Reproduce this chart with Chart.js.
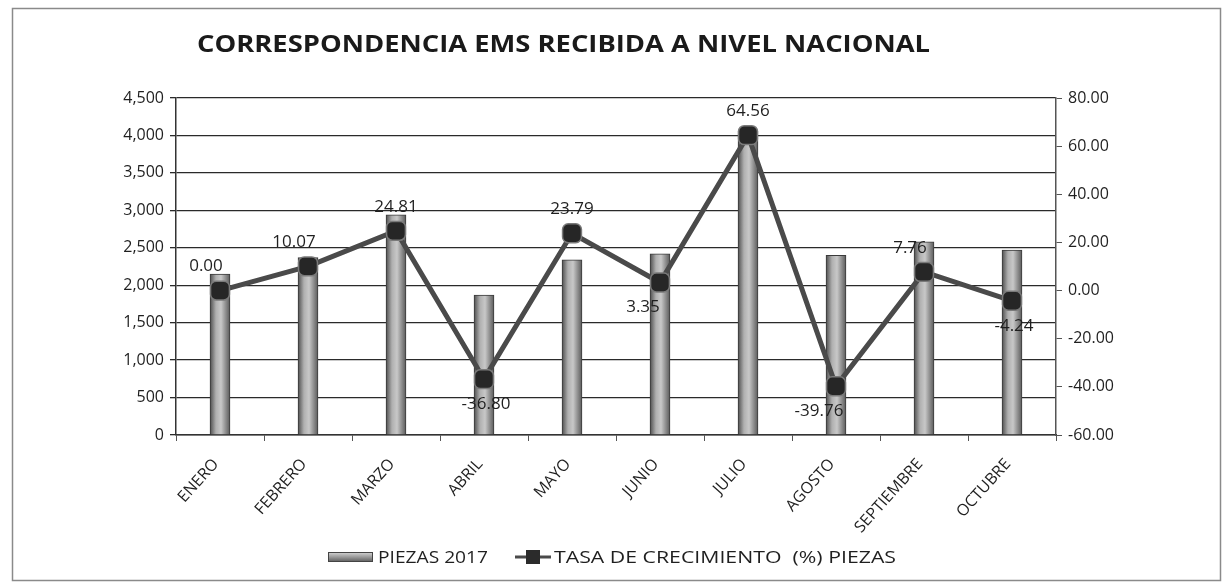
<!DOCTYPE html>
<html>
<head>
<meta charset="utf-8">
<script src="https://cdn.jsdelivr.net/npm/chart.js@4/dist/chart.umd.min.js"></script>
<style>
  html, body { margin: 0; padding: 0; background: #fff; }
  #wrap { width: 1227px; height: 584px; }
</style>
</head>
<body>
<div id="wrap"><canvas id="chart" width="1227" height="584"></canvas></div>
<script>
// ===== Data =====
const months = ["ENERO", "FEBRERO", "MARZO", "ABRIL", "MAYO", "JUNIO", "JULIO", "AGOSTO", "SEPTIEMBRE", "OCTUBRE"];
const piezas2017 = [2150, 2370, 2940, 1870, 2340, 2420, 4060, 2400, 2580, 2470];
const tasaCrecimiento = [0.00, 10.07, 24.81, -36.80, 23.79, 3.35, 64.56, -39.76, 7.76, -4.24];
const leftTicks = { min: 0, max: 4500, step: 500 };
const rightTicks = { min: -60, max: 80, step: 20 };

const titleText = "CORRESPONDENCIA EMS RECIBIDA A NIVEL NACIONAL";
const barLegend = "PIEZAS 2017";
const lineLegend = "TASA DE CRECIMIENTO  (%) PIEZAS";

// where each value label sits around its marker
const labelPlace = ["above-left", "above-left", "above", "below", "above", "below-left", "above", "below-left", "above-left", "below"];

const FONT = "'Open Sans', 'Liberation Sans', sans-serif";

// draws text squeezed/stretched to a given width (the source uses a narrow font)
function fitText(c, text, x, y, width) {
  const w = c.measureText(text).width;
  c.save();
  c.translate(x, y);
  c.scale(width / w, 1);
  c.fillText(text, 0, 0);
  c.restore();
}

// ===== Plugins =====
const frame = {
  id: "frame",
  beforeDraw(chart) {
    const c = chart.ctx;
    c.save();
    c.fillStyle = "#fff";
    c.fillRect(0, 0, chart.width, chart.height);
    c.strokeStyle = "#8a8a8a";
    c.lineWidth = 1.5;
    c.strokeRect(12.5, 8.5, 1208, 572);
    // title
    c.fillStyle = "#1a1a1a";
    c.font = "bold 23px " + FONT;
    c.textBaseline = "middle";
    fitText(c, titleText, 197, 45, 733);
    c.restore();
  }
};

const valueLabels = {
  id: "valueLabels",
  afterDatasetsDraw(chart) {
    const c = chart.ctx;
    const meta = chart.getDatasetMeta(1);
    c.save();
    c.font = "17px " + FONT;
    c.fillStyle = "#1f1f1f";
    c.textAlign = "center";
    c.textBaseline = "middle";
    meta.data.forEach((pt, i) => {
      let dx = 0, dy = -24;
      const p = labelPlace[i];
      if (p === "above-left") { dx = -14; dy = -24; }
      if (p === "below") { dx = 2; dy = 25; }
      if (p === "below-left") { dx = -17; dy = 25; }
      c.fillText(tasaCrecimiento[i].toFixed(2), pt.x + dx, pt.y + dy);
    });
    c.restore();
  }
};

const customLegend = {
  id: "customLegend",
  afterDraw(chart) {
    const c = chart.ctx;
    const y = 557;
    c.save();
    // bar swatch
    const g = c.createLinearGradient(0, y - 5, 0, y + 5);
    g.addColorStop(0, "#d8d8d8");
    g.addColorStop(0.5, "#9a9a9a");
    g.addColorStop(1, "#5a5a5a");
    c.fillStyle = g;
    c.fillRect(328, y - 5, 45, 10);
    c.strokeStyle = "#444";
    c.lineWidth = 1;
    c.strokeRect(328.5, y - 4.5, 44, 9);
    c.font = "16px " + FONT;
    c.fillStyle = "#1f1f1f";
    c.textBaseline = "middle";
    fitText(c, barLegend, 378, y + 1, 110);
    // line swatch
    c.strokeStyle = "#4a4a4a";
    c.lineWidth = 3;
    c.beginPath();
    c.moveTo(515, y);
    c.lineTo(551, y);
    c.stroke();
    c.fillStyle = "#2b2b2b";
    c.fillRect(526, y - 7, 14, 14);
    c.fillStyle = "#1f1f1f";
    fitText(c, lineLegend, 554, y + 1, 342);
    c.restore();
  }
};

// cylinder-like shading across each bar
function barFill(ctx) {
  const chart = ctx.chart;
  if (!chart.chartArea || ctx.dataIndex === undefined) return "#9c9c9c";
  const x = chart.scales.x.getPixelForValue(ctx.dataIndex);
  const g = chart.ctx.createLinearGradient(x - 10, 0, x + 10, 0);
  g.addColorStop(0, "#4e4e4e");
  g.addColorStop(0.3, "#b0b0b0");
  g.addColorStop(0.55, "#c8c8c8");
  g.addColorStop(1, "#5a5a5a");
  return g;
}

// ===== Chart =====
const chart = new Chart(document.getElementById("chart"), {
  type: "bar",
  data: {
    labels: months,
    datasets: [
      {
        type: "bar",
        label: barLegend,
        data: piezas2017,
        yAxisID: "y",
        backgroundColor: barFill,
        borderColor: "#3a3a3a",
        borderWidth: 1,
        barThickness: 20,
        order: 2
      },
      {
        type: "line",
        label: lineLegend,
        data: tasaCrecimiento,
        yAxisID: "y2",
        borderColor: "#4a4a4a",
        borderWidth: 5,
        pointStyle: "rectRounded",
        pointRadius: 11,
        pointBackgroundColor: "#262626",
        pointBorderColor: "#7a7a7a",
        pointBorderWidth: 1.5,
        tension: 0,
        order: 1
      }
    ]
  },
  options: {
    responsive: false,
    animation: false,
    layout: { padding: { top: 98, left: 0, right: 0, bottom: 0 } },
    plugins: {
      legend: { display: false },
      title: { display: false },
      tooltip: { enabled: false }
    },
    scales: {
      x: {
        grid: { display: true, drawOnChartArea: false, color: "#555", tickLength: 6, offset: true },
        border: { color: "#333", width: 1.5 },
        ticks: {
          color: "#1f1f1f",
          font: { family: FONT, size: 16 },
          maxRotation: 48,
          minRotation: 48,
          labelOffset: -4,
          padding: 14
        },
        afterFit(scale) { scale.height = 149; }
      },
      y: {
        position: "left",
        min: leftTicks.min,
        max: leftTicks.max,
        ticks: {
          stepSize: leftTicks.step,
          color: "#1f1f1f",
          font: { family: FONT, size: 16 },
          padding: 6,
          callback: v => v.toLocaleString("en-US")
        },
        grid: { color: "#2a2a2a", lineWidth: 1.3, tickLength: 6 },
        border: { color: "#333", width: 1.5 },
        afterFit(scale) { scale.width = 176; }
      },
      y2: {
        position: "right",
        min: rightTicks.min,
        max: rightTicks.max,
        ticks: {
          stepSize: rightTicks.step,
          color: "#1f1f1f",
          font: { family: FONT, size: 16 },
          padding: 6,
          callback: v => v.toFixed(2)
        },
        grid: { drawOnChartArea: false, color: "#555", tickLength: 6 },
        border: { color: "#555", width: 1.5 },
        afterFit(scale) { scale.width = 1227 - 1056; }
      }
    }
  },
  plugins: [frame, valueLabels, customLegend]
});
</script>
</body>
</html>
